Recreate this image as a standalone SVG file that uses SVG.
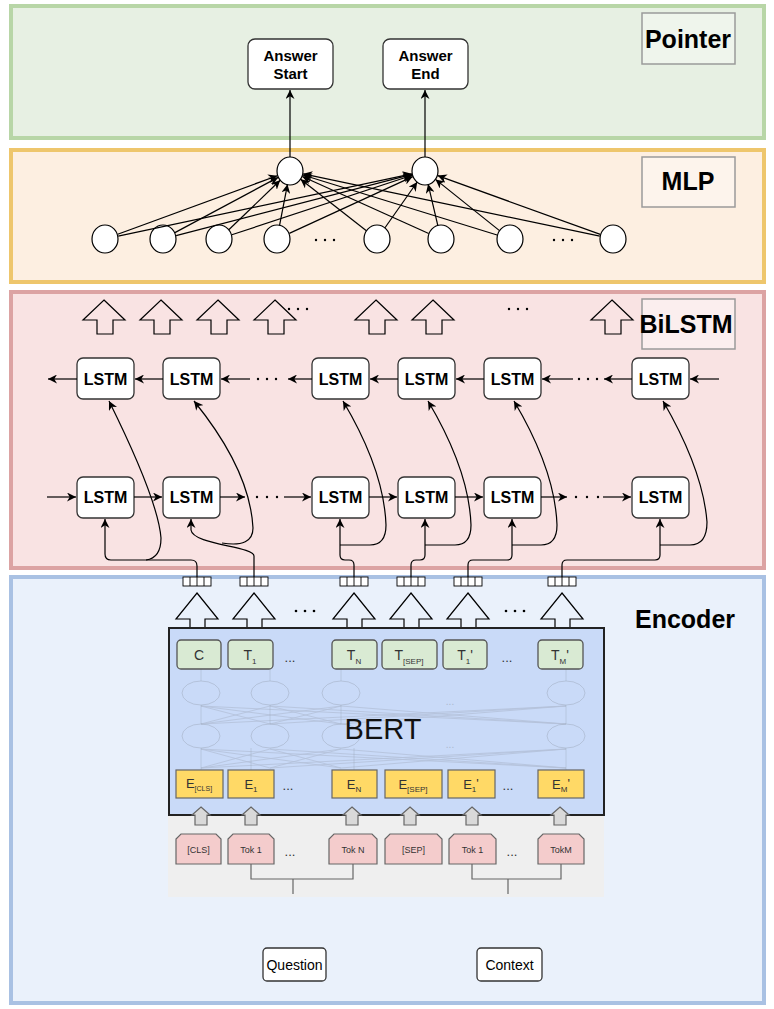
<svg xmlns="http://www.w3.org/2000/svg" width="774" height="1009" viewBox="0 0 774 1009">
<style>
text{font-family:"Liberation Sans",Arial,sans-serif}
.lbl{font-size:25px;font-weight:bold;fill:#000;text-anchor:middle}
.lbox{stroke:#9a9a9a;stroke-width:1.5}
.node{fill:#fff;stroke:#333;stroke-width:1.3}
.nt{font-size:15px;font-weight:bold;text-anchor:middle;fill:#000}
.lt{font-size:16px;font-weight:bold;text-anchor:middle;fill:#000}
.cn{fill:none;stroke:#000;stroke-width:1.2}
.ha{fill:none;stroke:#000;stroke-width:1.2}
.circ{fill:#fff;stroke:#000;stroke-width:1.2}
.tb{fill:#d9ead3;stroke:#555;stroke-width:1.3}
.eb{fill:#ffd966;stroke:#666;stroke-width:1.2}
.tk{fill:#f4cccc;stroke:#666;stroke-width:1.2}
.ga{fill:#d9d9d9;stroke:#666;stroke-width:1.2}
.bt{font-size:14px;fill:#333;text-anchor:middle}
.et{font-size:13px;fill:#333;text-anchor:middle}
.kt{font-size:9px;fill:#333;text-anchor:middle}
.dt{font-size:13px;fill:#333;text-anchor:middle}
.fd{fill:none;stroke:#9aa3b5;stroke-width:1;opacity:0.45}
.fl{stroke:#9aa3b5;stroke-width:0.8;opacity:0.45}
.vec{fill:#fff;stroke:#000;stroke-width:0.9}
.dot{fill:#000}
</style>
<defs>
<marker id="arr" viewBox="0 0 10 10" refX="10" refY="5" markerWidth="9" markerHeight="9" orient="auto" markerUnits="userSpaceOnUse"><path d="M0,0 L10,5 L0,10 L3,5 z" fill="#000"/></marker>
</defs>

<!-- panels -->
<g id="panel-pointer">
<rect x="11" y="6" width="753" height="132" fill="#e7f0e3" stroke="#b8d6a7" stroke-width="4"/>
<rect class="lbox" x="642" y="13" width="93" height="51" fill="#eff5ec"/>
<text class="lbl" x="688" y="48">Pointer</text>
</g>
<g id="panel-mlp">
<rect x="11" y="150" width="753" height="132" fill="#fdefe1" stroke="#eec66c" stroke-width="4"/>
<rect class="lbox" x="642" y="157" width="93" height="50" fill="#fdf4ec"/>
<text class="lbl" x="688" y="190">MLP</text>
</g>
<g id="panel-bilstm">
<rect x="11" y="292" width="753" height="276" fill="#f9e3e3" stroke="#dca3a3" stroke-width="4"/>
<rect class="lbox" x="642" y="299" width="93" height="50" fill="#fbeeee"/>
<text class="lbl" x="686" y="333">BiLSTM</text>
</g>
<g id="panel-encoder">
<rect x="11" y="577" width="753" height="426" fill="#eaf1fb" stroke="#a9c1e3" stroke-width="4"/>
<text class="lbl" x="685" y="628">Encoder</text>
</g>

<!-- pointer nodes -->
<g id="answer-start"><rect class="node" x="248" y="39" width="85" height="50" rx="7"/><text class="nt" x="290.5" y="61">Answer</text><text class="nt" x="290.5" y="79">Start</text></g>
<g id="answer-end"><rect class="node" x="383" y="39" width="85" height="50" rx="7"/><text class="nt" x="425.5" y="61">Answer</text><text class="nt" x="425.5" y="79">End</text></g>

<!-- MLP nodes -->
<g id="mlp-out1"><ellipse class="circ" cx="290" cy="171" rx="13" ry="14"/></g>
<g id="mlp-out2"><ellipse class="circ" cx="425" cy="171" rx="13" ry="14"/></g>
<g id="mlp-in">
<ellipse class="circ" cx="105" cy="239" rx="13" ry="14"/>
<ellipse class="circ" cx="163" cy="239" rx="13" ry="14"/>
<ellipse class="circ" cx="219" cy="239" rx="13" ry="14"/>
<ellipse class="circ" cx="277" cy="239" rx="13" ry="14"/>
<ellipse class="circ" cx="377" cy="239" rx="13" ry="14"/>
<ellipse class="circ" cx="441" cy="239" rx="13" ry="14"/>
<ellipse class="circ" cx="510" cy="239" rx="13" ry="14"/>
<ellipse class="circ" cx="613" cy="239" rx="13" ry="14"/>
<circle class="dot" cx="316" cy="240" r="1.2"/><circle class="dot" cx="325" cy="240" r="1.2"/><circle class="dot" cx="334" cy="240" r="1.2"/>
<circle class="dot" cx="554" cy="240" r="1.2"/><circle class="dot" cx="563" cy="240" r="1.2"/><circle class="dot" cx="572" cy="240" r="1.2"/>
</g>

<!-- BiLSTM output arrows -->
<g id="bilstm-outputs">
<path class="ha" d="M104,300 L125,320 L113,320 L113,334 L97,334 L97,320 L83,320 Z"/>
<path class="ha" d="M161,300 L182,320 L170,320 L170,334 L154,334 L154,320 L140,320 Z"/>
<path class="ha" d="M218,300 L239,320 L227,320 L227,334 L211,334 L211,320 L197,320 Z"/>
<path class="ha" d="M275,300 L296,320 L284,320 L284,334 L268,334 L268,320 L254,320 Z"/>
<path class="ha" d="M376,300 L397,320 L385,320 L385,334 L369,334 L369,320 L355,320 Z"/>
<path class="ha" d="M433,300 L454,320 L442,320 L442,334 L426,334 L426,320 L412,320 Z"/>
<path class="ha" d="M612,300 L633,320 L621,320 L621,334 L605,334 L605,320 L591,320 Z"/>
<circle class="dot" cx="289" cy="309" r="1.2"/><circle class="dot" cx="298" cy="309" r="1.2"/><circle class="dot" cx="307" cy="309" r="1.2"/>
<circle class="dot" cx="509" cy="309" r="1.2"/><circle class="dot" cx="518" cy="309" r="1.2"/><circle class="dot" cx="527" cy="309" r="1.2"/>
</g>

<!-- LSTM backward row -->
<g id="lstm-b1"><rect class="node" x="77" y="358" width="57" height="41" rx="6"/><text class="lt" x="105.5" y="385">LSTM</text></g>
<g id="lstm-b2"><rect class="node" x="163" y="358" width="57" height="41" rx="6"/><text class="lt" x="191.5" y="385">LSTM</text></g>
<g id="lstm-b3"><rect class="node" x="312" y="358" width="57" height="41" rx="6"/><text class="lt" x="340.5" y="385">LSTM</text></g>
<g id="lstm-b4"><rect class="node" x="398" y="358" width="57" height="41" rx="6"/><text class="lt" x="426.5" y="385">LSTM</text></g>
<g id="lstm-b5"><rect class="node" x="484" y="358" width="57" height="41" rx="6"/><text class="lt" x="512.5" y="385">LSTM</text></g>
<g id="lstm-b6"><rect class="node" x="632" y="358" width="57" height="41" rx="6"/><text class="lt" x="660.5" y="385">LSTM</text></g>
<!-- LSTM forward row -->
<g id="lstm-f1"><rect class="node" x="77" y="477" width="57" height="41" rx="6"/><text class="lt" x="105.5" y="503">LSTM</text></g>
<g id="lstm-f2"><rect class="node" x="163" y="477" width="57" height="41" rx="6"/><text class="lt" x="191.5" y="503">LSTM</text></g>
<g id="lstm-f3"><rect class="node" x="312" y="477" width="57" height="41" rx="6"/><text class="lt" x="340.5" y="503">LSTM</text></g>
<g id="lstm-f4"><rect class="node" x="398" y="477" width="57" height="41" rx="6"/><text class="lt" x="426.5" y="503">LSTM</text></g>
<g id="lstm-f5"><rect class="node" x="484" y="477" width="57" height="41" rx="6"/><text class="lt" x="512.5" y="503">LSTM</text></g>
<g id="lstm-f6"><rect class="node" x="632" y="477" width="57" height="41" rx="6"/><text class="lt" x="660.5" y="503">LSTM</text></g>

<g id="lstm-dots">
<circle class="dot" cx="258" cy="379" r="1.2"/><circle class="dot" cx="267" cy="379" r="1.2"/><circle class="dot" cx="276" cy="379" r="1.2"/>
<circle class="dot" cx="579" cy="379" r="1.2"/><circle class="dot" cx="588" cy="379" r="1.2"/><circle class="dot" cx="597" cy="379" r="1.2"/>
<circle class="dot" cx="257" cy="497" r="1.2"/><circle class="dot" cx="267" cy="497" r="1.2"/><circle class="dot" cx="277" cy="497" r="1.2"/>
<circle class="dot" cx="576" cy="497" r="1.2"/><circle class="dot" cx="587" cy="497" r="1.2"/><circle class="dot" cx="598" cy="497" r="1.2"/>
</g>

<!-- vectors -->
<g id="vectors">
<g transform="translate(197,0)"><rect class="vec" x="-14" y="577" width="28" height="9"/><path class="vec" d="M-7,577V586M0,577V586M7,577V586"/></g>
<g transform="translate(254,0)"><rect class="vec" x="-14" y="577" width="28" height="9"/><path class="vec" d="M-7,577V586M0,577V586M7,577V586"/></g>
<g transform="translate(354,0)"><rect class="vec" x="-14" y="577" width="28" height="9"/><path class="vec" d="M-7,577V586M0,577V586M7,577V586"/></g>
<g transform="translate(411,0)"><rect class="vec" x="-14" y="577" width="28" height="9"/><path class="vec" d="M-7,577V586M0,577V586M7,577V586"/></g>
<g transform="translate(468,0)"><rect class="vec" x="-14" y="577" width="28" height="9"/><path class="vec" d="M-7,577V586M0,577V586M7,577V586"/></g>
<g transform="translate(562,0)"><rect class="vec" x="-14" y="577" width="28" height="9"/><path class="vec" d="M-7,577V586M0,577V586M7,577V586"/></g>
</g>

<!-- encoder hollow arrows -->
<g id="bert-outputs">
<path class="ha" d="M197,593 L218,619 L205,619 L205,628 L190,628 L190,619 L176,619 Z"/>
<path class="ha" d="M254,593 L275,619 L262,619 L262,628 L247,628 L247,619 L233,619 Z"/>
<path class="ha" d="M354,593 L375,619 L362,619 L362,628 L347,628 L347,619 L333,619 Z"/>
<path class="ha" d="M411,593 L432,619 L419,619 L419,628 L404,628 L404,619 L390,619 Z"/>
<path class="ha" d="M468,593 L489,619 L476,619 L476,628 L461,628 L461,619 L447,619 Z"/>
<path class="ha" d="M562,593 L583,619 L570,619 L570,628 L555,628 L555,619 L541,619 Z"/>
<circle class="dot" cx="296" cy="611" r="1.3"/><circle class="dot" cx="305" cy="611" r="1.3"/><circle class="dot" cx="314" cy="611" r="1.3"/>
<circle class="dot" cx="506" cy="611" r="1.3"/><circle class="dot" cx="515" cy="611" r="1.3"/><circle class="dot" cx="524" cy="611" r="1.3"/>
</g>

<!-- input area -->
<g id="input-area">
<rect x="168" y="790" width="436" height="107" fill="#efefef"/>
</g>

<!-- BERT -->
<g id="bert">
<rect x="169" y="628" width="435" height="187" fill="#c9daf8" stroke="#222" stroke-width="2"/>
<g id="bert-inner">
<path class="fl" d="M201,669V681M270,669V681M341,669V681M566,669V681M201,705V724M270,705V724M341,705V724M566,705V724M201,748V770M251,748V770M354,748V770M566,748V770"/>
<path class="fl" d="M201,724L270,706M201,724L341,706M201,724L566,706M270,724L201,706M270,724L341,706M270,724L566,706M341,724L201,706M341,724L270,706M341,724L566,706M566,724L201,706M566,724L270,706M566,724L341,706"/>
<path class="fl" d="M201,768L270,749M201,768L341,749M201,768L566,749M270,768L201,749M270,768L341,749M270,768L566,749M341,768L201,749M341,768L270,749M341,768L566,749M566,768L201,749M566,768L270,749M566,768L341,749"/>
<ellipse class="fd" cx="201" cy="693" rx="19" ry="12"/><ellipse class="fd" cx="270" cy="693" rx="19" ry="12"/><ellipse class="fd" cx="341" cy="693" rx="19" ry="12"/><ellipse class="fd" cx="566" cy="693" rx="19" ry="12"/>
<ellipse class="fd" cx="201" cy="736" rx="19" ry="12"/><ellipse class="fd" cx="270" cy="736" rx="19" ry="12"/><ellipse class="fd" cx="341" cy="736" rx="19" ry="12"/><ellipse class="fd" cx="566" cy="736" rx="19" ry="12"/>
<text x="450" y="705" font-size="10" fill="#9aa3b5" opacity="0.6" text-anchor="middle">...</text>
<text x="450" y="748" font-size="10" fill="#9aa3b5" opacity="0.6" text-anchor="middle">...</text>
</g>
<text x="383" y="739" font-size="29" fill="#111" text-anchor="middle">BERT</text>
</g>

<!-- T boxes -->
<g id="t-c"><rect class="tb" x="177" y="640" width="44" height="29" rx="4"/><text class="bt" x="199" y="660">C</text></g>
<g id="t-1"><rect class="tb" x="228" y="640" width="45" height="29" rx="4"/><text class="bt" x="250" y="660">T<tspan font-size="8" dy="4">1</tspan></text></g>
<g id="t-n"><rect class="tb" x="332" y="640" width="45" height="29" rx="4"/><text class="bt" x="354" y="660">T<tspan font-size="8" dy="4">N</tspan></text></g>
<g id="t-sep"><rect class="tb" x="382" y="640" width="55" height="29" rx="4"/><text class="bt" x="409" y="660">T<tspan font-size="8" dy="4">[SEP]</tspan></text></g>
<g id="t-1p"><rect class="tb" x="443" y="640" width="44" height="29" rx="4"/><text class="bt" x="465" y="660">T<tspan font-size="8" dy="4">1</tspan><tspan dy="-4">'</tspan></text></g>
<g id="t-mp"><rect class="tb" x="538" y="640" width="45" height="29" rx="4"/><text class="bt" x="560" y="660">T<tspan font-size="8" dy="4">M</tspan><tspan dy="-4">'</tspan></text></g>
<text class="dt" x="290" y="662">...</text>
<text class="dt" x="507" y="662">...</text>

<!-- E boxes -->
<g id="e-cls"><rect class="eb" x="176" y="770" width="47" height="28"/><text class="et" x="199" y="788">E<tspan font-size="7" dy="3">[CLS]</tspan></text></g>
<g id="e-1"><rect class="eb" x="228" y="770" width="46" height="28"/><text class="et" x="251" y="789">E<tspan font-size="8" dy="3">1</tspan></text></g>
<g id="e-n"><rect class="eb" x="332" y="770" width="45" height="28"/><text class="et" x="354" y="789">E<tspan font-size="8" dy="3">N</tspan></text></g>
<g id="e-sep"><rect class="eb" x="385" y="770" width="57" height="28"/><text class="et" x="413" y="789">E<tspan font-size="8" dy="3">[SEP]</tspan></text></g>
<g id="e-1p"><rect class="eb" x="448" y="770" width="47" height="28"/><text class="et" x="471" y="789">E<tspan font-size="8" dy="3">1</tspan><tspan dy="-4">'</tspan></text></g>
<g id="e-mp"><rect class="eb" x="538" y="770" width="46" height="28"/><text class="et" x="561" y="789">E<tspan font-size="8" dy="3">M</tspan><tspan dy="-4">'</tspan></text></g>
<text class="dt" x="288" y="790">...</text>
<text class="dt" x="508" y="790">...</text>

<!-- gray small arrows -->
<g id="token-arrows">
<path class="ga" d="M201,807 L210,815 L207,815 L207,825 L195,825 L195,815 L192,815 Z"/>
<path class="ga" d="M251,807 L260,815 L257,815 L257,825 L245,825 L245,815 L242,815 Z"/>
<path class="ga" d="M352,807 L361,815 L358,815 L358,825 L346,825 L346,815 L343,815 Z"/>
<path class="ga" d="M410,807 L419,815 L416,815 L416,825 L404,825 L404,815 L401,815 Z"/>
<path class="ga" d="M472,807 L481,815 L478,815 L478,825 L466,825 L466,815 L463,815 Z"/>
<path class="ga" d="M560,807 L569,815 L566,815 L566,825 L554,825 L554,815 L551,815 Z"/>
</g>

<!-- tokens -->
<g id="tok-cls"><path class="tk" d="M181,834 H216 L221,839 V864 H176 V839 Z"/><text class="kt" x="198.5" y="853" font-size="8">[CLS]</text></g>
<g id="tok-1"><path class="tk" d="M233,834 H269 L274,839 V864 H228 V839 Z"/><text class="kt" x="251" y="853">Tok 1</text></g>
<g id="tok-n"><path class="tk" d="M334,834 H372 L377,839 V864 H329 V839 Z"/><text class="kt" x="353" y="853">Tok N</text></g>
<g id="tok-sep"><path class="tk" d="M390,834 H437 L442,839 V864 H385 V839 Z"/><text class="kt" x="413.5" y="853">[SEP]</text></g>
<g id="tok-1p"><path class="tk" d="M454,834 H491 L496,839 V864 H449 V839 Z"/><text class="kt" x="472.5" y="853">Tok 1</text></g>
<g id="tok-m"><path class="tk" d="M543,834 H579 L584,839 V864 H538 V839 Z"/><text class="kt" x="561" y="853">TokM</text></g>
<text class="dt" x="290" y="856">...</text>
<text class="dt" x="512" y="856">...</text>

<!-- inputs -->
<g id="question"><rect class="node" x="263" y="948" width="63" height="33" rx="4"/><text x="294.5" y="970" font-size="14" text-anchor="middle" fill="#000">Question</text></g>
<g id="context"><rect class="node" x="477" y="948" width="65" height="33" rx="4"/><text x="509.5" y="970" font-size="14" text-anchor="middle" fill="#000">Context</text></g>

<!-- connectors -->
<g id="connectors">
<path class="cn" marker-end="url(#arr)" d="M290,157 V90"/>
<path class="cn" marker-end="url(#arr)" d="M425,157 V90"/>
<!-- MLP fan -->
<path class="cn" marker-end="url(#arr)" d="M117.7,234.3 L277.3,175.7"/>
<path class="cn" marker-end="url(#arr)" d="M174.9,232.6 L278.1,177.4"/>
<path class="cn" marker-end="url(#arr)" d="M228.8,229.7 L280.2,180.3"/>
<path class="cn" marker-end="url(#arr)" d="M279.5,225.7 L287.5,184.3"/>
<path class="cn" marker-end="url(#arr)" d="M366.4,230.7 L300.6,179.3"/>
<path class="cn" marker-end="url(#arr)" d="M428.7,233.5 L302.3,176.5"/>
<path class="cn" marker-end="url(#arr)" d="M497.1,235 L302.9,175"/>
<path class="cn" marker-end="url(#arr)" d="M599.8,236.2 L303.2,173.8"/>
<path class="cn" marker-end="url(#arr)" d="M118.2,236.2 L411.8,173.8"/>
<path class="cn" marker-end="url(#arr)" d="M176.1,235.6 L411.9,174.4"/>
<path class="cn" marker-end="url(#arr)" d="M231.8,234.8 L412.2,175.2"/>
<path class="cn" marker-end="url(#arr)" d="M289.3,233.4 L412.7,176.6"/>
<path class="cn" marker-end="url(#arr)" d="M384.8,228 L417.2,182"/>
<path class="cn" marker-end="url(#arr)" d="M437.9,225.9 L428.1,184.1"/>
<path class="cn" marker-end="url(#arr)" d="M499.5,230.6 L435.5,179.4"/>
<path class="cn" marker-end="url(#arr)" d="M600.3,234.4 L437.7,175.6"/>
<!-- backward chain -->
<path class="cn" marker-end="url(#arr)" d="M719,379 H690"/>
<path class="cn" marker-end="url(#arr)" d="M632,379 H604"/>
<path class="cn" marker-end="url(#arr)" d="M573,379 H542"/>
<path class="cn" marker-end="url(#arr)" d="M484,379 H456"/>
<path class="cn" marker-end="url(#arr)" d="M398,379 H370"/>
<path class="cn" marker-end="url(#arr)" d="M312,379 H288"/>
<path class="cn" marker-end="url(#arr)" d="M250,379 H221"/>
<path class="cn" marker-end="url(#arr)" d="M163,379 H135"/>
<path class="cn" marker-end="url(#arr)" d="M77,379 H48"/>
<!-- forward chain -->
<path class="cn" marker-end="url(#arr)" d="M47,497 H76"/>
<path class="cn" marker-end="url(#arr)" d="M134,497 H162"/>
<path class="cn" marker-end="url(#arr)" d="M220,497 H245"/>
<path class="cn" marker-end="url(#arr)" d="M284,497 H311"/>
<path class="cn" marker-end="url(#arr)" d="M369,497 H397"/>
<path class="cn" marker-end="url(#arr)" d="M455,497 H483"/>
<path class="cn" marker-end="url(#arr)" d="M541,497 H567"/>
<path class="cn" marker-end="url(#arr)" d="M603,497 H631"/>
<!-- inputs to forward LSTMs -->
<path class="cn" marker-end="url(#arr)" d="M197,577 V566 Q197,560 191,560 H111 Q105,560 105,554 V519"/>
<path class="cn" marker-end="url(#arr)" d="M254,577 V556 C254,546 193,545 191,530 V519"/>
<path class="cn" marker-end="url(#arr)" d="M354,577 V565 Q354,560 349,560 H345 Q340,560 340,555 V519"/>
<path class="cn" marker-end="url(#arr)" d="M411,577 V565 Q411,560 416,560 H420 Q425,560 425,555 V519"/>
<path class="cn" marker-end="url(#arr)" d="M468,577 V565 Q468,560 473,560 H507 Q512,560 512,555 V519"/>
<path class="cn" marker-end="url(#arr)" d="M562,577 V565 Q562,560 567,560 H655 Q660,560 660,555 V519"/>
<!-- inputs to backward LSTMs -->
<path class="cn" marker-end="url(#arr)" d="M146,560 Q161,558 161,538 Q158,500 109,401"/>
<path class="cn" marker-end="url(#arr)" d="M222,543 Q253,548 253,528 Q250,470 194,401"/>
<path class="cn" marker-end="url(#arr)" d="M340,545 H370 Q386,545 386,525 Q384,470 343,401"/>
<path class="cn" marker-end="url(#arr)" d="M425,545 H455 Q471,545 471,525 Q469,470 428,401"/>
<path class="cn" marker-end="url(#arr)" d="M512,545 H541 Q557,545 557,525 Q555,470 514,401"/>
<path class="cn" marker-end="url(#arr)" d="M660,545 H690 Q707,545 707,522 Q703,470 663,401"/>
<!-- token brackets -->
<path fill="none" stroke="#666" stroke-width="1.2" d="M251,864 V879 H353 V864 M293,879 V894"/>
<path fill="none" stroke="#666" stroke-width="1.2" d="M472,864 V879 H561 V864 M508,879 V894"/>
</g>
</svg>
